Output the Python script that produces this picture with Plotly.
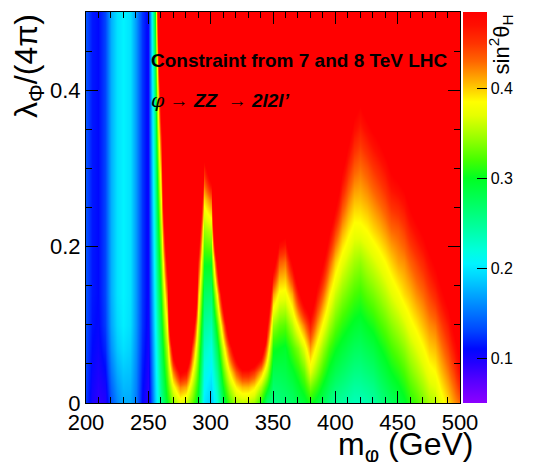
import plotly.graph_objects as go

# ---- grid ----
mass = [200, 205, 210, 215, 220, 225, 230, 235, 240, 245, 250,
        255, 260, 265, 270, 275, 280, 285, 290, 295, 300,
        305, 310, 315, 320, 325, 330, 335, 340, 345, 350,
        355, 360, 365, 370, 375, 380, 385, 390, 395, 400,
        405, 410, 415, 420, 425, 430, 435, 440, 445, 450,
        455, 460, 465, 470, 475, 480, 485, 490, 495, 500]
lam = [0, 0.02, 0.04, 0.07, 0.1, 0.14, 0.18, 0.22, 0.26, 0.3, 0.34, 0.4, 0.5]

# below 2 m_h the limit has (almost) no lambda dependence: stripes
stripe_top = [.135, .115, .110, .130, .175, .197, .205, .197, .165, .125, .105]

# sin^2(theta_H) limit, one list per lambda row (m = 200..500 step 5)
z_l000 = [.125, .100, .090, .095, .135, .158, .172, .172, .152, .110, .090,
          .185, .250, .300, .340, .370, .360, .330, .290, .200, .185,
          .220, .280, .320, .350, .355, .355, .345, .310, .265, .255,
          .260, .265, .270, .280, .290, .305, .290, .275, .260, .250,
          .245, .240, .235, .235, .240, .245, .255, .265, .275, .285,
          .295, .310, .320, .335, .350, .355, .375, .395, .415, .430]
z_l002 = [.127, .103, .094, .102, .143, .166, .179, .177, .155, .113, .093,
          .189, .257, .314, .377, .420, .410, .357, .303, .208, .194,
          .235, .301, .349, .388, .404, .404, .391, .352, .309, .267,
          .270, .274, .282, .295, .310, .335, .315, .295, .277, .265,
          .258, .252, .246, .246, .251, .256, .267, .277, .287, .297,
          .308, .323, .334, .349, .364, .370, .390, .410, .430, .455]
z_l004 = [.129, .106, .098, .109, .151, .174, .185, .182, .157, .116, .096,
          .193, .264, .329, .423, .490, .475, .389, .317, .216, .203,
          .251, .324, .383, .436, .468, .468, .450, .407, .352, .280,
          .280, .283, .295, .310, .330, .370, .340, .315, .294, .280,
          .271, .264, .258, .257, .263, .268, .279, .289, .300, .310,
          .321, .336, .348, .363, .378, .385, .404, .424, .446, .475]
z_l007 = [.132, .110, .104, .120, .163, .186, .196, .189, .161, .121, .100,
          .199, .276, .355, .517, .630, .610, .450, .340, .231, .218,
          .281, .368, .450, .535, .614, .614, .583, .533, .417, .305,
          .300, .296, .320, .340, .370, .415, .375, .345, .320, .303,
          .291, .283, .276, .274, .281, .287, .298, .308, .320, .331,
          .342, .357, .369, .384, .399, .405, .424, .445, .470, .500]
z_l010 = [.134, .113, .108, .127, .171, .193, .203, .195, .164, .124, .103,
          .206, .289, .386, .665, .800, .780, .533, .367, .247, .237,
          .319, .426, .545, .692, .800, .800, .800, .771, .483, .345,
          .330, .326, .355, .390, .425, .465, .415, .380, .350, .328,
          .312, .303, .295, .291, .300, .307, .318, .328, .340, .352,
          .364, .379, .390, .405, .418, .425, .445, .466, .495, .525]
z_l014 = stripe_top + [
          .214, .308, .435, .800, .800, .800, .707, .410, .272, .266,
          .389, .538, .758, .800, .800, .800, .800, .800, .570, .415,
          .380, .378, .410, .470, .520, .540, .470, .430, .390, .362,
          .342, .331, .321, .316, .327, .335, .345, .356, .369, .382,
          .395, .405, .418, .430, .445, .458, .478, .500, .530, .560]
z_l018 = stripe_top + [
          .222, .331, .500, .800, .800, .800, .800, .465, .304, .304,
          .498, .731, .800, .800, .800, .800, .800, .800, .657, .510,
          .435, .427, .490, .560, .620, .620, .530, .485, .437, .400,
          .374, .360, .348, .343, .355, .364, .374, .385, .398, .412,
          .418, .432, .444, .458, .475, .490, .510, .535, .565, .595]
z_l022 = stripe_top + [
          .231, .357, .586, .800, .800, .800, .800, .537, .344, .356,
          .692, .800, .800, .800, .800, .800, .800, .800, .744, .600,
          .510, .500, .590, .660, .720, .700, .600, .545, .490, .447,
          .410, .391, .377, .378, .385, .395, .404, .415, .428, .434,
          .445, .462, .475, .490, .510, .525, .545, .570, .600, .630]
z_l026 = stripe_top + [
          .240, .385, .709, .800, .800, .800, .800, .635, .395, .427,
          .800, .800, .800, .800, .800, .800, .800, .800, .800, .700,
          .600, .600, .700, .760, .800, .780, .670, .610, .550, .500,
          .448, .423, .405, .404, .412, .422, .432, .443, .458, .465,
          .475, .495, .510, .525, .545, .560, .580, .610, .640, .670]
z_l030 = stripe_top + [
          .248, .420, .800, .800, .800, .800, .800, .777, .465, .535,
          .800, .800, .800, .800, .800, .800, .800, .800, .800, .800,
          .700, .700, .800, .800, .800, .800, .740, .680, .610, .555,
          .490, .457, .435, .428, .438, .450, .460, .472, .490, .500,
          .510, .530, .545, .560, .580, .600, .620, .650, .680, .710]
z_l034 = stripe_top + [
          .256, .460, .800, .800, .800, .800, .800, .800, .565, .714,
          .800, .800, .800, .800, .800, .800, .800, .800, .800, .800,
          .800, .800, .800, .800, .800, .800, .800, .750, .675, .610,
          .535, .495, .465, .455, .468, .480, .490, .505, .520, .535,
          .545, .565, .580, .600, .620, .640, .660, .690, .720, .750]
z_l040 = stripe_top + [
          .270, .540, .800, .800, .800, .800, .800, .800, .800, .800,
          .800, .800, .800, .800, .800, .800, .800, .800, .800, .800,
          .800, .800, .800, .800, .800, .800, .800, .800, .770, .700,
          .610, .555, .515, .500, .520, .535, .545, .560, .575, .590,
          .600, .620, .640, .660, .680, .700, .720, .750, .780, .800]
z_l050 = stripe_top + [
          .300, .750, .800, .800, .800, .800, .800, .800, .800, .800,
          .800, .800, .800, .800, .800, .800, .800, .800, .800, .800,
          .800, .800, .800, .800, .800, .800, .800, .800, .800, .800,
          .750, .670, .610, .580, .620, .640, .650, .670, .680, .700,
          .710, .720, .740, .760, .780, .800, .800, .800, .800, .800]

z_rows = [z_l000, z_l002, z_l004, z_l007, z_l010, z_l014, z_l018,
          z_l022, z_l026, z_l030, z_l034, z_l040, z_l050]

# colour axis
zmin, zmax = 0.05, 0.485
cbar_ticks = [0.1, 0.2, 0.3, 0.4]
x_ticks = [200, 250, 300, 350, 400, 450, 500]
y_ticks = [0, 0.2, 0.4]

pal_vals = [0.050, 0.075, 0.095, 0.110, 0.130, 0.150, 0.170, 0.190, 0.205,
            0.220, 0.245, 0.270, 0.300, 0.320, 0.345, 0.370, 0.385, 0.400,
            0.415, 0.430, 0.450, 0.470, 0.485]
pal_cols = ["#8c00ff", "#5500ff", "#2200ff", "#0008ff", "#0044ff", "#0074ff",
            "#00a4ff", "#00d4ff", "#00f4ff", "#00ffdd", "#00ffa0", "#00ff66",
            "#00ff22", "#44ff00", "#99ff00", "#e6ff00", "#ffff00", "#ffcc00",
            "#ff9900", "#ff6600", "#ff3300", "#ff0f00", "#ff0000"]
colorscale = [[(v - zmin) / (zmax - zmin), c] for v, c in zip(pal_vals, pal_cols)]

FONT = "Liberation Sans, Arial, Helvetica, sans-serif"

fig = go.Figure()
fig.add_trace(go.Heatmap(
    x=mass, y=lam, z=z_rows,
    zmin=zmin, zmax=zmax, zsmooth="best",
    colorscale=colorscale,
    colorbar=dict(
        x=1.0077, xanchor="left", xpad=0, y=0.5, yanchor="middle", ypad=0,
        len=1, lenmode="fraction", thickness=24, thicknessmode="pixels",
        outlinewidth=0,
        tickvals=cbar_ticks, ticktext=[str(t) for t in cbar_ticks],
        ticks="inside", ticklen=10, tickwidth=1, tickcolor="black",
        tickfont=dict(family=FONT, size=16, color="black"),
    ),
    hoverinfo="skip",
))

axis_common = dict(
    showline=True, linecolor="black", linewidth=1, mirror="ticks",
    ticks="inside", ticklen=12, tickwidth=1, tickcolor="black",
    showgrid=False, zeroline=False,
    tickfont=dict(family=FONT, size=22, color="black"),
)
fig.update_xaxes(range=[200, 500], tickvals=x_ticks,
                 minor=dict(dtick=10, ticks="inside", ticklen=6, tickcolor="black"),
                 **axis_common)
fig.update_yaxes(range=[0, 0.5], tickvals=y_ticks, ticktext=["0", "0.2", "0.4"],
                 minor=dict(dtick=0.05, ticks="inside", ticklen=6, tickcolor="black"),
                 **axis_common)

annotations = [
    dict(text="λ<sub>Φ</sub>/(4π)", textangle=-90, xref="paper", yref="paper",
         x=-0.155, y=1.0, xanchor="center", yanchor="top", showarrow=False,
         font=dict(family=FONT, size=32, color="black")),
    dict(text="m<sub>φ</sub> (GeV)", xref="paper", yref="paper",
         x=1.04, y=-0.11, xanchor="right", yanchor="middle", showarrow=False,
         font=dict(family=FONT, size=32, color="black")),
    dict(text="sin<sup>2</sup>θ<sub>H</sub>", textangle=-90, xref="paper", yref="paper",
         x=1.108, y=1.0, xanchor="center", yanchor="top", showarrow=False,
         font=dict(family=FONT, size=22, color="black")),
    dict(text="<b>Constraint from 7 and 8 TeV LHC</b>", xref="paper", yref="paper",
         x=0.1686, y=0.876, xanchor="left", yanchor="middle", showarrow=False,
         font=dict(family=FONT, size=19, color="black")),
    dict(text="<span style='font-family:DejaVu Serif'><i>φ</i></span> → <b><i>ZZ</i></b>&nbsp;&nbsp;→ <b><i>2l2l’</i></b>",
         xref="paper", yref="paper",
         x=0.1686, y=0.775, xanchor="left", yanchor="middle", showarrow=False,
         font=dict(family=FONT, size=19, color="black")),
]

fig.update_layout(
    width=535, height=462,
    margin=dict(l=86, r=60, t=12, b=59),
    paper_bgcolor="white", plot_bgcolor="white",
    annotations=annotations,
    showlegend=False,
)
fig.add_shape(type="line", xref="paper", yref="paper",
              x0=1.0077 + 24 / 389, x1=1.0077 + 24 / 389, y0=0, y1=1,
              line=dict(color="#555555", width=1))

fig.write_html("out.html")
